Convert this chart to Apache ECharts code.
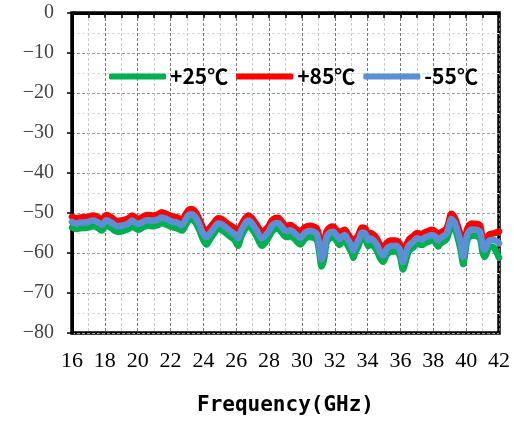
<!DOCTYPE html>
<html>
<head>
<meta charset="utf-8">
<script src="https://cdn.jsdelivr.net/npm/echarts@6/dist/echarts.min.js"></script>
<style>
    html, body { margin: 0; padding: 0; background: #fff; }
    #chart { width: 514px; height: 421px; }
</style>
</head>
<body>
<div id="chart"></div>
<script>
//data (dB vs GHz)
var freq = [16.0, 16.25, 16.5, 16.9, 17.3, 17.6, 17.8, 18.1, 18.4, 18.75,
    19.1, 19.45, 19.65, 19.85, 20.05, 20.35, 20.65, 20.95, 21.25, 21.45,
    21.8, 22.05, 22.3, 22.5, 22.7, 22.9, 23.1, 23.3, 23.5, 23.7,
    24.0, 24.2, 24.4, 24.6, 24.9, 25.1, 25.3, 25.6, 25.9, 26.1,
    26.3, 26.55, 26.75, 26.95, 27.25, 27.55, 27.75, 27.95, 28.15, 28.35,
    28.55, 28.75, 28.95, 29.1, 29.3, 29.5, 29.7, 29.9, 30.2, 30.5,
    30.7, 30.9, 31.05, 31.2, 31.35, 31.5, 31.7, 31.9, 32.1, 32.3,
    32.4, 32.6, 32.8, 33.03, 33.13, 33.25, 33.45, 33.65, 33.85, 34.05,
    34.15, 34.35, 34.55, 34.75, 34.95, 35.15, 35.4, 35.7, 35.9, 36.02,
    36.15, 36.3, 36.5, 36.8, 37.0, 37.3, 37.5, 37.7, 37.9, 38.1,
    38.3, 38.4, 38.6, 38.8, 38.92, 39.1, 39.3, 39.5, 39.68, 39.82,
    39.93, 40.08, 40.35, 40.65, 40.85, 41.0, 41.12, 41.26, 41.4, 41.67, 42.0];

var t25 = [-53.6, -54.0, -53.8, -53.7, -53.3, -53.8, -54.4, -53.2, -53.8, -54.7,
    -54.5, -54.0, -53.3, -53.8, -54.2, -53.5, -53.2, -53.3, -53.0, -52.5,
    -53.0, -53.5, -53.7, -54.0, -54.4, -53.2, -51.9, -51.7, -52.3, -53.8,
    -56.8, -57.9, -56.6, -55.4, -54.0, -54.2, -54.8, -55.8, -56.8, -58.2,
    -56.0, -54.0, -53.3, -54.0, -55.9, -58.2, -57.5, -56.3, -54.8, -54.0,
    -53.9, -54.8, -55.8, -56.0, -55.8, -56.3, -57.2, -57.9, -56.4, -56.0,
    -56.2, -56.6, -59.6, -63.4, -61.6, -57.5, -56.3, -56.1, -56.9, -58.0,
    -57.4, -56.9, -58.2, -60.0, -61.2, -59.8, -58.2, -56.3, -56.5, -58.3,
    -57.8, -58.2, -59.3, -61.2, -62.2, -60.5, -59.7, -59.6, -60.1, -61.6,
    -64.1, -62.4, -59.6, -58.5, -57.7, -58.0, -57.5, -57.2, -56.9, -57.2,
    -58.4, -57.8, -57.2, -56.6, -55.3, -53.0, -53.9, -56.4, -59.6, -62.8,
    -60.4, -56.7, -55.6, -55.8, -56.4, -59.8, -61.0, -60.0, -58.3, -58.6, -61.2];

var t85 = [-50.9, -51.3, -51.1, -51.0, -50.6, -51.1, -51.7, -50.5, -51.1, -52.0,
    -51.8, -51.3, -50.6, -51.1, -51.5, -50.8, -50.5, -50.6, -50.3, -49.8,
    -50.3, -50.8, -51.0, -51.3, -51.7, -50.5, -49.2, -49.0, -49.6, -51.1,
    -53.8, -54.3, -53.6, -52.6, -51.3, -51.5, -52.1, -53.0, -53.8, -54.6,
    -53.0, -51.3, -50.6, -51.3, -53.0, -54.6, -54.2, -53.4, -52.0, -51.3,
    -51.2, -52.0, -53.0, -53.2, -53.0, -53.5, -54.2, -54.6, -53.5, -53.2,
    -53.4, -53.8, -55.9, -59.2, -57.7, -54.6, -53.6, -53.4, -54.2, -55.0,
    -54.6, -54.2, -55.3, -56.7, -57.5, -56.7, -55.4, -53.6, -53.8, -55.4,
    -55.0, -55.4, -56.3, -57.9, -58.7, -57.5, -56.9, -56.9, -57.3, -58.3,
    -60.0, -58.7, -56.7, -55.7, -55.0, -55.3, -54.8, -54.5, -54.2, -54.5,
    -55.4, -55.0, -54.5, -53.9, -52.5, -50.2, -51.1, -53.4, -55.9, -58.7,
    -56.7, -53.8, -52.6, -52.7, -53.1, -56.3, -56.9, -56.4, -55.4, -55.1, -54.6];

var tm55 = [-52.2, -52.6, -52.4, -52.3, -51.9, -52.4, -53.0, -51.8, -52.4, -53.3,
    -53.1, -52.6, -51.9, -52.4, -52.8, -52.1, -51.8, -51.9, -51.6, -51.1,
    -51.6, -52.1, -52.3, -52.6, -53.0, -51.8, -50.5, -50.3, -50.9, -52.4,
    -55.3, -56.0, -55.1, -54.0, -52.6, -52.8, -53.4, -54.4, -55.3, -56.3,
    -54.4, -52.6, -51.9, -52.6, -54.4, -56.3, -55.7, -54.8, -53.3, -52.6,
    -52.5, -53.3, -54.3, -54.5, -54.3, -54.8, -55.6, -56.2, -54.9, -54.5,
    -54.7, -55.2, -57.8, -61.6, -59.8, -56.0, -54.9, -54.7, -55.5, -56.5,
    -56.0, -55.5, -56.7, -58.3, -59.4, -58.3, -56.8, -54.9, -55.1, -56.8,
    -56.4, -56.8, -57.8, -59.6, -60.6, -59.0, -58.3, -58.2, -58.7, -60.0,
    -62.3, -60.5, -58.2, -57.1, -56.3, -56.6, -56.1, -55.8, -55.5, -55.8,
    -56.9, -56.4, -55.8, -55.2, -53.8, -51.5, -52.4, -54.9, -57.7, -61.0,
    -58.6, -55.3, -54.1, -54.2, -54.7, -58.1, -59.2, -58.2, -56.9, -56.7, -57.6];

var seriesNames = ['+25℃', '+85℃', '-55℃'];
var seriesColors = ['#00b050', '#ff0000', '#5b8fd6'];

var serifFont = 'Liberation Serif, Times New Roman, DejaVu Serif, serif';

function pairs(vals) {
    var out = [];
    for (var i = 0; i < freq.length; i++) {
        out.push([freq[i], vals[i]]);
    }
    return out;
}

function makeSeries(idx, vals) {
    return {
        name: seriesNames[idx],
        type: 'line',
        data: pairs(vals),
        smooth: 0.3,
        showSymbol: false,
        symbol: 'none',
        color: seriesColors[idx],
        lineStyle: { width: 6.5, color: seriesColors[idx], cap: 'round', join: 'round' },
        animation: false
    };
}

var myChart = echarts.init(document.getElementById('chart'), null, { renderer: 'canvas' });
var option = {
    backgroundColor: '#fff',
    animation: false,
    grid: {
        left: 72, top: 13, right: 15, bottom: 86,
        show: true,
        borderColor: '#000',
        borderWidth: 3.5,
        backgroundColor: 'transparent'
    },
    legend: {
        left: 104,
        top: 61,
        icon: 'roundRect',
        itemWidth: 57,
        itemHeight: 6,
        itemGap: 8,
        data: seriesNames,
        textStyle: {
            fontFamily: 'Noto Sans CJK SC, DejaVu Sans, sans-serif',
            fontWeight: 'bold',
            fontSize: 21,
            color: '#000',
            padding: [0, 0, 0, -1]
        }
    },
    xAxis: {
        type: 'value',
        min: 16,
        max: 42,
        interval: 2,
        name: 'Frequency(GHz)',
        nameLocation: 'middle',
        nameGap: 62,
        nameTextStyle: {
            fontFamily: 'DejaVu Sans Mono, monospace',
            fontWeight: 'bold',
            fontSize: 21,
            color: '#000'
        },
        axisLine: { show: true, lineStyle: { color: '#000', width: 3 } },
        axisTick: { show: true, inside: false, length: 5, lineStyle: { color: '#000', width: 1.5 } },
        minorTick: { show: true, splitNumber: 2, length: 5, lineStyle: { color: '#000', width: 1.5 } },
        axisLabel: {
            margin: 17,
            fontFamily: serifFont,
            fontSize: 22,
            color: '#000'
        },
        splitLine: { show: true, lineStyle: { color: '#777', type: [3, 2], width: 1 } },
        minorSplitLine: { show: true, lineStyle: { color: '#ccc', type: [3, 2], width: 1 } }
    },
    yAxis: {
        type: 'value',
        min: -80,
        max: 0,
        interval: 10,
        axisLine: { show: true, lineStyle: { color: '#000', width: 3 } },
        axisTick: { show: true, inside: false, length: 5, lineStyle: { color: '#000', width: 1.5 } },
        minorTick: { show: false, splitNumber: 2 },
        axisLabel: {
            margin: 18,
            fontFamily: serifFont,
            fontSize: 20,
            color: '#444',
            formatter: function (v) { return v < 0 ? '\u2212' + Math.abs(v) : String(v); }
        },
        splitLine: { show: true, lineStyle: { color: '#999', type: [3, 2], width: 1 } },
        minorSplitLine: { show: true, lineStyle: { color: '#ddd', type: [3, 2], width: 1 } }
    },
    series: [
        makeSeries(0, t25),
        makeSeries(1, t85),
        makeSeries(2, tm55)
    ]
};
myChart.setOption(option);
</script>
</body>
</html>
